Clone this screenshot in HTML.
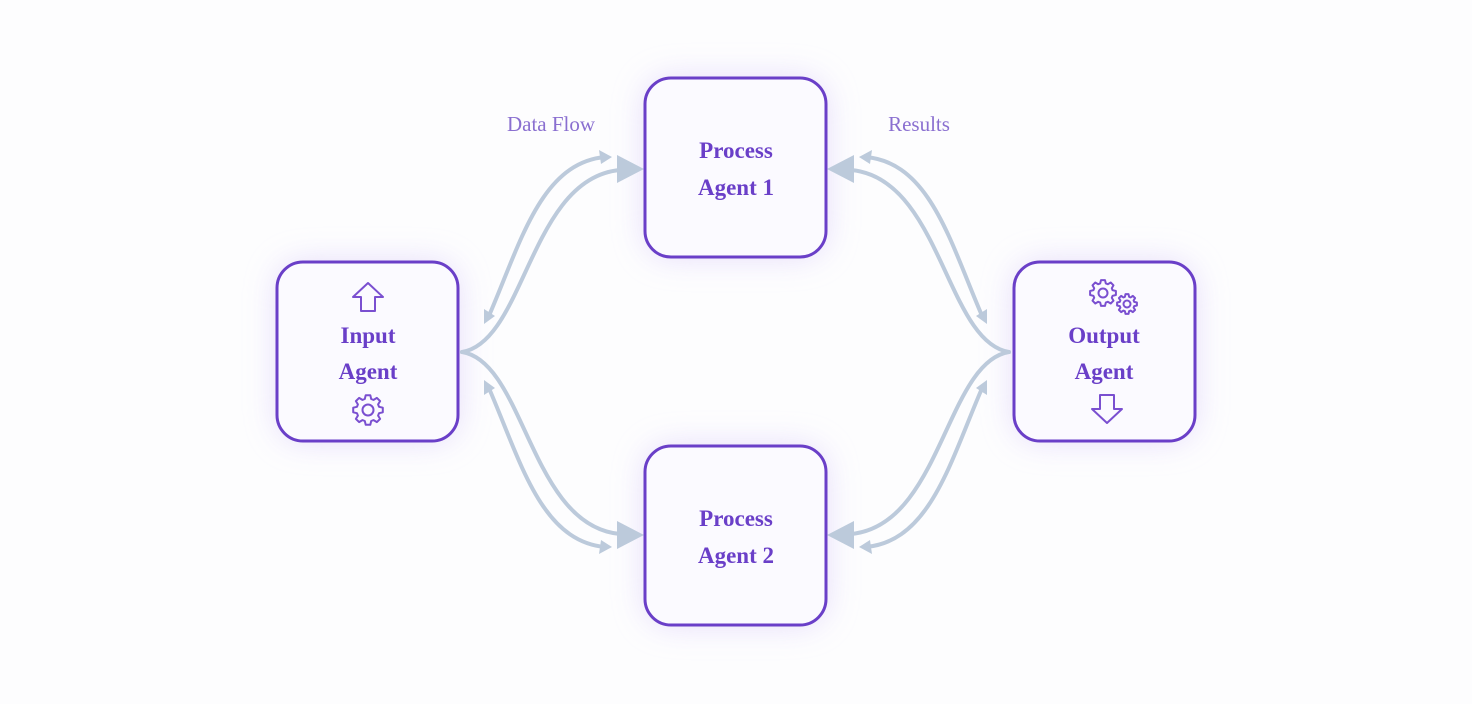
<!DOCTYPE html>
<html><head><meta charset="utf-8"><style>
html,body{margin:0;padding:0;background:#fdfdfe;}
svg{display:block;}
.box{fill:#fbfaff;stroke:#6a3fc8;stroke-width:3;}
.t{font-family:"Liberation Serif",serif;font-weight:bold;font-size:23px;fill:#6a3fc8;text-anchor:middle;}
.l{font-family:"Liberation Serif",serif;font-size:21px;fill:#8a6fd0;text-anchor:middle;}
.c{fill:none;stroke:#bccadb;stroke-width:4;stroke-linecap:round;}
.ic{fill:none;stroke:#7a4fd0;stroke-width:2;stroke-linejoin:round;}
</style></head><body>
<svg width="1472" height="704" viewBox="0 0 1472 704">
<defs>
<filter id="g" x="-50%" y="-50%" width="200%" height="200%"><feGaussianBlur stdDeviation="16"/></filter>
<g id="conn">
<path class="c" d="M462,352 C525,342 530,178 620,170"/>
<polygon points="617,155 644,169 617,183" fill="#bccadb"/>
<path class="c" d="M488,318 C520,245 540,163 605,157"/>
<polygon points="612,157 599,150 601,164" fill="#bccadb"/>
<polygon points="484,324 484,309 495,316" fill="#bccadb"/>
</g>
</defs>
<g filter="url(#g)" fill="#e2d8fa" opacity="0.9">
<rect x="277" y="262" width="181" height="179" rx="26"/>
<rect x="645" y="78" width="181" height="179" rx="26"/>
<rect x="645" y="446" width="181" height="179" rx="26"/>
<rect x="1014" y="262" width="181" height="179" rx="26"/>
</g>
<use href="#conn"/>
<use href="#conn" transform="translate(0,704) scale(1,-1)"/>
<use href="#conn" transform="translate(1471,0) scale(-1,1)"/>
<use href="#conn" transform="translate(1471,704) scale(-1,-1)"/>
<rect class="box" x="277" y="262" width="181" height="179" rx="26"/>
<rect class="box" x="645" y="78" width="181" height="179" rx="26"/>
<rect class="box" x="645" y="446" width="181" height="179" rx="26"/>
<rect class="box" x="1014" y="262" width="181" height="179" rx="26"/>
<text class="t" x="368" y="343">Input</text>
<text class="t" x="368" y="379">Agent</text>
<text class="t" x="736" y="158">Process</text>
<text class="t" x="736" y="195">Agent 1</text>
<text class="t" x="736" y="526">Process</text>
<text class="t" x="736" y="563">Agent 2</text>
<text class="t" x="1104" y="343">Output</text>
<text class="t" x="1104" y="379">Agent</text>
<text class="l" x="551" y="131">Data Flow</text>
<text class="l" x="919" y="131">Results</text>
<path class="ic" d="M368,283 L383,297 L375,297 L375,311 L361,311 L361,297 L353,297 Z"/>
<path class="ic" d="M1107,423 L1122,409 L1114,409 L1114,395 L1100,395 L1100,409 L1092,409 Z"/>
<g id="gears"></g>
</svg>
<script>
function gear(cx,cy,R,r,h,n){let d="";for(let i=0;i<n;i++){const a=i*2*Math.PI/n,w=Math.PI/n*0.55;
const pts=[[r,a-w*1.3],[R,a-w*0.7],[R,a+w*0.7],[r,a+w*1.3]];
pts.forEach((p,j)=>{const x=cx+p[0]*Math.cos(p[1]),y=cy+p[0]*Math.sin(p[1]);d+=(i==0&&j==0?"M":"L")+x.toFixed(1)+","+y.toFixed(1);});}
d+="Z";const g=document.getElementById("gears");
const p=document.createElementNS("http://www.w3.org/2000/svg","path");p.setAttribute("d",d);p.setAttribute("class","ic");g.appendChild(p);
const c=document.createElementNS("http://www.w3.org/2000/svg","circle");c.setAttribute("cx",cx);c.setAttribute("cy",cy);c.setAttribute("r",h);c.setAttribute("class","ic");g.appendChild(c);}
gear(368,410,15,11.5,5.5,8);gear(1103,293,13,10,4.5,8);gear(1127,304,10,7.5,3.5,8);
</script>
</body></html>
